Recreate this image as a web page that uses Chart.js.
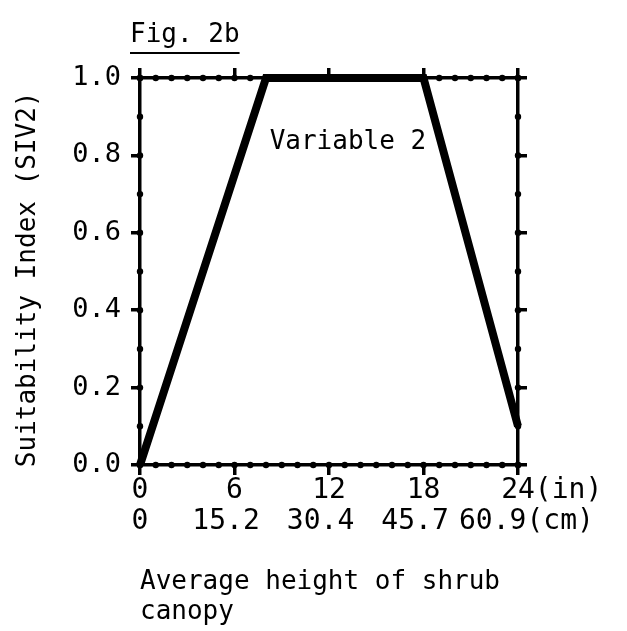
<!DOCTYPE html>
<html>
<head>
<meta charset="utf-8">
<script src="https://cdn.jsdelivr.net/npm/chart.js@4/dist/chart.umd.min.js"></script>
<style>
  body { margin: 0; background: #fff; }
  #wrap { position: relative; width: 627px; height: 631px; }
  #fig {
    position: absolute; left: 130px; top: 18px;
    font: 26px "DejaVu Sans Mono", monospace; color: #000;
    text-decoration: underline; text-decoration-thickness: 2px; text-underline-offset: 10px;
  }
</style>
</head>
<body>
<div id="wrap">
  <div id="fig">Fig. 2b</div>
  <canvas id="chart" width="627" height="631"></canvas>
</div>
<script>
//----------------------
// Data
//----------------------
const heightIn = [0, 8, 18, 24];
const siv2 = [0, 1, 1, 0.1];
const inchTicks = ['0', '6', '12', '18', '24(in)'];
const cmTicks = ['0', '15.2', '30.4', '45.7', '60.9(cm)'];
const yTickLabels = ['0.0', '0.2', '0.4', '0.6', '0.8', '1.0'];
const curveLabel = 'Variable 2';

const FONT = '"DejaVu Sans Mono", monospace';

// minor dots along the frame + the curve label
const extras = {
  id: 'extras',
  afterDraw(chart) {
    const c = chart.ctx;
    const x = chart.scales.x, y = chart.scales.y;
    c.save();
    c.fillStyle = '#000';
    for (let i = 0; i <= 24; i++) {
      const px = x.getPixelForValue(i);
      [y.top, y.bottom].forEach(py => {
        c.beginPath(); c.arc(px, py, 3.2, 0, Math.PI * 2); c.fill();
      });
    }
    for (let i = 0; i <= 10; i++) {
      const py = y.getPixelForValue(i / 10);
      [x.left, x.right].forEach(px => {
        c.beginPath(); c.arc(px, py, 3.2, 0, Math.PI * 2); c.fill();
      });
    }
    c.font = '26px ' + FONT;
    c.textAlign = 'center';
    c.textBaseline = 'middle';
    c.fillText(curveLabel, x.getPixelForValue(13.2), y.getPixelForValue(0.835));
    c.restore();
  }
};

const axisLine = { display: true, color: '#000', width: 3.5 };
const tickGrid = { drawOnChartArea: false, color: '#000', tickColor: '#000', lineWidth: 3.5, tickLength: 10 };

const ctx = document.getElementById('chart').getContext('2d');
const chart = new Chart(ctx, {
  type: 'scatter',
  data: {
    datasets: [{
      data: heightIn.map((v, i) => ({ x: v, y: siv2[i] })),
      showLine: true,
      borderColor: '#000',
      borderWidth: 8,
      pointRadius: 0,
      borderJoinStyle: 'miter',
      clip: false
    }]
  },
  plugins: [extras],
  options: {
    responsive: false,
    animation: false,
    layout: { padding: { left: 0, top: 68, right: 100, bottom: 0 } },
    plugins: { legend: { display: false }, tooltip: { enabled: false } },
    scales: {
      x: {
        type: 'linear', position: 'bottom', min: 0, max: 24,
        border: axisLine, grid: tickGrid,
        afterBuildTicks: s => { s.ticks = inchTicks.map((t, i) => ({ value: i * 6 })); },
        afterFit: s => { s.height = 166; },
        ticks: {
          color: '#000', padding: 0, maxRotation: 0, autoSkip: false,
          font: { family: FONT, size: 28, lineHeight: 1.12 },
          callback: (v, i) => {
            let a = inchTicks[i], b = cmTicks[i];
            if (i === inchTicks.length - 1) { a = '    ' + a; b = ' ' + b; }
            else if (i > 0) { b = b + ' '; }
            return [a, b];
          }
        },
        title: {
          display: true, align: 'start', color: '#000',
          text: ['Average height of shrub', 'canopy'],
          font: { family: FONT, size: 26, lineHeight: 1.15 },
          padding: { top: 0, bottom: 4 }
        }
      },
      x2: {
        type: 'linear', position: 'top', min: 0, max: 24,
        border: axisLine, grid: tickGrid,
        afterBuildTicks: s => { s.ticks = inchTicks.map((t, i) => ({ value: i * 6 })); },
        ticks: { display: false }
      },
      y: {
        type: 'linear', position: 'left', min: 0, max: 1,
        border: axisLine, grid: Object.assign({}, tickGrid, { tickLength: 9 }),
        afterBuildTicks: s => { s.ticks = yTickLabels.map((t, i) => ({ value: i * 0.2 })); },
        afterFit: s => { s.width = 140; },
        ticks: {
          color: '#000', padding: 10,
          font: { family: FONT, size: 27 },
          callback: (v, i) => yTickLabels[i]
        },
        title: {
          display: true, color: '#000',
          text: 'Suitability Index (SIV2) ',
          font: { family: FONT, size: 26, lineHeight: 1.15 },
          padding: { top: 13, bottom: 0 }
        }
      },
      y2: {
        type: 'linear', position: 'right', min: 0, max: 1,
        border: axisLine, grid: Object.assign({}, tickGrid, { tickLength: 9 }),
        afterBuildTicks: s => { s.ticks = yTickLabels.map((t, i) => ({ value: i * 0.2 })); },
        ticks: { display: false }
      }
    }
  }
});
</script>
</body>
</html>
